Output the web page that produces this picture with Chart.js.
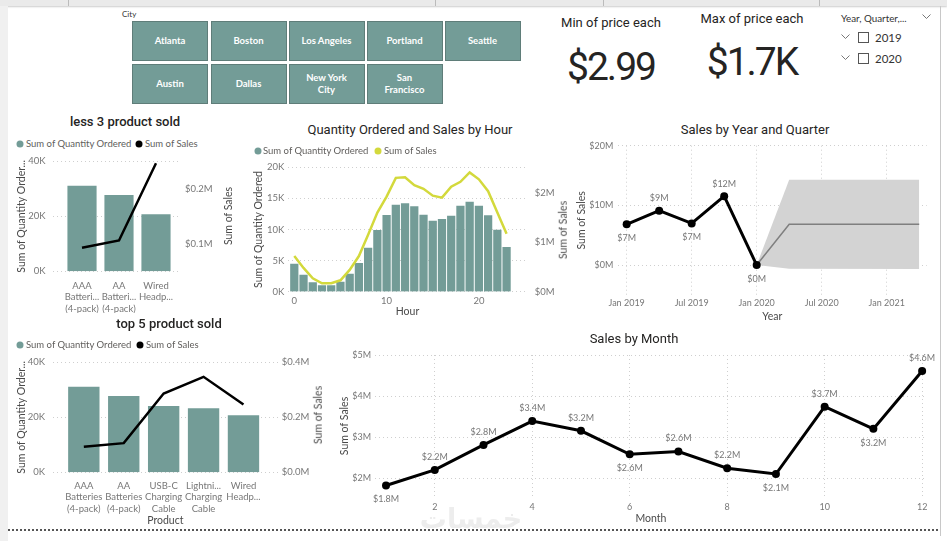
<!DOCTYPE html>
<html><head><meta charset="utf-8">
<script src="https://cdn.jsdelivr.net/npm/chart.js@4.4.1/dist/chart.umd.min.js"></script>
<style>
html,body{margin:0;padding:0;background:#fff;}
#root{position:relative;width:947px;height:541px;overflow:hidden;background:#fff;font-family:Lato,sans-serif;}
.c{position:absolute;transform:translate(-50%,-50%);white-space:nowrap;line-height:1;}
.l{position:absolute;transform:translate(0,-50%);white-space:nowrap;line-height:1;}
.rot{position:absolute;transform:translate(-50%,-50%) rotate(-90deg);white-space:nowrap;line-height:1;font-size:10.5px;color:#4a4a4a;}
canvas{position:absolute;}
.btn{position:absolute;background:#739c97;border:1px solid #5f7d79;box-sizing:border-box;color:#fff;font:700 9.5px Lato,sans-serif;display:flex;align-items:center;justify-content:center;text-align:center;line-height:11.5px;}
.title{font-family:Roboto,sans-serif;font-size:13px;color:#252423;}
.leg{font-size:9.5px;color:#605e5c;}
.dot{position:absolute;width:7px;height:7px;border-radius:50%;transform:translate(-50%,-50%);}
.chk{position:absolute;width:11px;height:11px;border:1px solid #555;box-sizing:border-box;}
</style></head>
<body>
<div id="root">
  <div style="position:absolute;left:0;top:0;width:947px;height:6px;background:#eaeaea;box-shadow:0 1px 2px #ccc"></div>
  <div style="position:absolute;left:68px;top:0;width:1px;height:6px;background:#bbb"></div>
  <div style="position:absolute;left:435px;top:0;width:1px;height:6px;background:#bbb"></div>
  <div style="position:absolute;left:603px;top:0;width:1px;height:6px;background:#bbb"></div>
  <div style="position:absolute;left:819px;top:0;width:1px;height:6px;background:#bbb"></div>
  <div style="position:absolute;left:0;top:6px;width:8px;height:535px;background:#f0f0f0"></div>
  <div style="position:absolute;left:940px;top:6px;width:1px;height:530px;background:#c8c8c8"></div>
  <div style="position:absolute;left:8px;top:529px;width:930px;height:0;border-top:2px dotted #555"></div>

  <!-- City slicer -->
  <div class="l" style="left:122px;top:14px;font-size:8px;color:#333">City</div>
  <div id="cities"></div>

  <!-- Cards -->
  <div class="c" style="left:611px;top:22px;font-family:Roboto;font-size:13px;color:#252423">Min of price each</div>
  <div class="c" style="left:611px;top:67px;font-family:Roboto;font-size:39px;letter-spacing:-2px;color:#252423">$2.99</div>
  <div class="c" style="left:752px;top:18px;font-family:Roboto;font-size:13px;color:#252423">Max of price each</div>
  <div class="c" style="left:752px;top:62px;font-family:Roboto;font-size:39px;letter-spacing:-2px;color:#252423">$1.7K</div>

  <!-- Year slicer -->
  <div class="l" style="left:841px;top:19px;font-size:9.8px;color:#333">Year, Quarter,...</div>
  <svg style="position:absolute;left:922px;top:14px" width="9" height="6"><polyline points="0.5,0.5 4.5,4.5 8.5,0.5" fill="none" stroke="#777" stroke-width="1"/></svg>
  <svg style="position:absolute;left:841px;top:34px" width="9" height="6"><polyline points="0.5,0.5 4.5,4.5 8.5,0.5" fill="none" stroke="#777" stroke-width="1"/></svg>
  <div class="chk" style="left:858px;top:32px"></div>
  <div class="l" style="left:875px;top:37.5px;font-size:11.5px;color:#333">2019</div>
  <svg style="position:absolute;left:841px;top:55px" width="9" height="6"><polyline points="0.5,0.5 4.5,4.5 8.5,0.5" fill="none" stroke="#777" stroke-width="1"/></svg>
  <div class="chk" style="left:858px;top:53px"></div>
  <div class="l" style="left:875px;top:58.5px;font-size:11.5px;color:#333">2020</div>

  <!-- Chart 1 -->
  <div class="c title" style="left:125px;top:121px;font-weight:500">less 3 product sold</div>
  <div class="dot" style="left:20px;top:144px;background:#739c97"></div>
  <div class="l leg" style="left:26px;top:144px">Sum of Quantity Ordered</div>
  <div class="dot" style="left:139px;top:144px;background:#000"></div>
  <div class="l leg" style="left:145px;top:144px">Sum of Sales</div>
  <canvas id="c1" width="240" height="158" style="left:10px;top:155px"></canvas>
  <div class="rot" style="left:228px;top:216px">Sum of Sales</div>

  <!-- Chart 2 -->
  <div class="c title" style="left:410px;top:129px">Quantity Ordered and Sales by Hour</div>
  <div class="dot" style="left:258px;top:151px;background:#739c97"></div>
  <div class="l leg" style="left:263px;top:151px">Sum of Quantity Ordered</div>
  <div class="dot" style="left:378px;top:151px;background:#d3d93c"></div>
  <div class="l leg" style="left:384px;top:151px">Sum of Sales</div>
  <canvas id="c2" width="310" height="160" style="left:245px;top:160px"></canvas>

  <!-- Chart 3 -->
  <div class="c title" style="left:755px;top:129px">Sales by Year and Quarter</div>
  <canvas id="c3" width="390" height="187" style="left:550px;top:138px"></canvas>
  <div class="rot" style="left:563px;top:230px">Sum of Sales</div>

  <!-- Chart 4 -->
  <div class="c title" style="left:169px;top:323px;font-weight:500">top 5 product sold</div>
  <div class="dot" style="left:20px;top:345px;background:#739c97"></div>
  <div class="l leg" style="left:26px;top:345px">Sum of Quantity Ordered</div>
  <div class="dot" style="left:140px;top:345px;background:#000"></div>
  <div class="l leg" style="left:146px;top:345px">Sum of Sales</div>
  <canvas id="c4" width="300" height="172" style="left:10px;top:355px"></canvas>

  <!-- Chart 5 -->
  <div class="c title" style="left:634px;top:338px">Sales by Month</div>
  <canvas id="c5" width="625" height="183" style="left:315px;top:345px"></canvas>
  <div class="rot" style="left:318px;top:415px">Sum of Sales</div>
  <div class="c" style="left:471px;top:518px;font-family:'DejaVu Sans';font-weight:700;font-size:27px;color:#ededed">خمسات</div>
</div>
<script>
// ---------------- DATA ----------------
const cities = [['Atlanta','Boston','Los Angeles','Portland','Seattle'],['Austin','Dallas','New York<br>City','San<br>Francisco']];

const lessLabels = [['AAA','Batteri...','(4-pack)'], ['AA','Batteri...','(4-pack)'], ['Wired','Headp...']];
const lessQty = [31000, 27600, 20600];
const lessSales = [92700, 106100, 246500];

const topLabels = [['AAA','Batteries','(4-pack)'], ['AA','Batteries','(4-pack)'], ['USB-C','Charging','Cable'], ['Lightni...','Charging','Cable'], ['Wired','Headp...']];
const topQty = [31000, 27600, 24000, 23200, 20600];
const topSales = [92700, 106100, 286500, 347100, 246500];

const hours = [0,1,2,3,4,5,6,7,8,9,10,11,12,13,14,15,16,17,18,19,20,21,22,23];
const hourQty = [4450,2680,1450,970,970,1550,2840,4560,7020,9870,12280,13940,14160,13670,12330,11370,11640,12170,13780,14420,13780,12220,9920,7130];
const hourSales = [720000,480000,270000,170000,170000,230000,440000,720000,1150000,1600000,1920000,2300000,2310000,2150000,2080000,1940000,1900000,2120000,2220000,2410000,2270000,2030000,1600000,1170000];

// months counted from Jan 2019
const quarterMonths = [0,3,6,9,12];
const quarterSales = [6.83, 9.12, 6.99, 11.55, 0.01];           // $M
const forecastMonths = [12, 15, 27];
const forecastMid = [0.01, 6.83, 6.83];
const forecastUpper = [0.01, 14.3, 14.3];
const forecastLower = [0.01, -0.6, -0.66];
const yearTickMonths = [0,6,12,18,24];
const yearTickLabels = ['Jan 2019','Jul 2019','Jan 2020','Jul 2020','Jan 2021'];

const months = [1,2,3,4,5,6,7,8,9,10,11,12];
const monthSales = [1.82, 2.2, 2.81, 3.39, 3.153, 2.58, 2.647, 2.24, 2.1, 3.74, 3.2, 4.61]; // $M
const monthTicks = [2,4,6,8,10,12];

// ---------------- STYLE ----------------
const BAR = '#739c97';
const GRIDC = '#cfcfcf';
const TICKC = '#777';
const AXC = '#4a4a4a';
const SEG = 'Lato, sans-serif';
Chart.defaults.font.family = SEG;
Chart.defaults.animation = false;

// city buttons
(function(){
  const xs = [132, 210.5, 288.5, 366.5, 444.5];
  const ys = [21, 64];
  const host = document.getElementById('cities');
  cities.forEach((row, r) => row.forEach((name, i) => {
    const d = document.createElement('div');
    d.className = 'btn';
    d.style.left = xs[i] + 'px'; d.style.top = ys[r] + 'px';
    d.style.width = '76px'; d.style.height = '39.5px';
    d.innerHTML = name;
    host.appendChild(d);
  }));
})();

function noPad(s) { s.paddingTop = 0; s.paddingBottom = 0; s.paddingLeft = 0; s.paddingRight = 0; }
function yAxis(o) {
  return {
    position: o.position || 'left',
    min: o.min, max: o.max,
    grid: o.grid === false ? { display: false, drawTicks: false } : { color: GRIDC, lineWidth: 1, drawTicks: false },
    border: { display: false, dash: [1, 3] },
    afterBuildTicks: s => { s.ticks = o.ticks.map(v => ({ value: v })); },
    ticks: { callback: o.fmt, color: TICKC, font: { size: o.fs || 9.5 }, padding: o.pad },
    title: o.title ? { display: true, text: o.title, color: AXC, font: { size: o.tfs || 10.5 }, padding: { top: o.tpad, bottom: 0 } } : { display: false },
    afterFit: s => { s.width = o.w; noPad(s); }
  };
}
function xAxis(o) {
  return {
    type: 'linear', position: 'bottom',
    min: o.min, max: o.max, offset: false,
    grid: o.grid ? { color: GRIDC, lineWidth: 1, drawTicks: false, offset: false } : { display: false, drawTicks: false, offset: false },
    border: { display: false, dash: [1, 3] },
    afterBuildTicks: s => { s.ticks = o.ticks.map(v => ({ value: v })); },
    ticks: { callback: o.fmt, color: TICKC, font: { size: o.fs || 9.5, lineHeight: o.lh || 1.2 }, padding: o.pad, maxRotation: 0, autoSkip: false },
    title: o.title ? { display: true, text: o.title, color: AXC, font: { size: o.tfs || 10.5 }, padding: { top: 0, bottom: o.tpad } } : { display: false },
    afterFit: s => { s.height = o.h; noPad(s); }
  };
}
const baseOpts = (pad) => ({
  responsive: false, animation: false,
  layout: { padding: pad },
  plugins: { legend: { display: false }, tooltip: { enabled: false } }
});
const dlPlugin = {
  id: 'dl',
  afterDatasetsDraw(chart, args, o) {
    if (!o || o.dataset == null) return;
    const meta = chart.getDatasetMeta(o.dataset);
    const ctx = chart.ctx;
    ctx.save();
    ctx.font = o.font; ctx.fillStyle = o.color; ctx.textAlign = 'center'; ctx.textBaseline = 'middle';
    meta.data.forEach((el, i) => {
      const below = o.pos[i] === 'b';
      ctx.fillText(o.text[i], el.x, el.y + (below ? o.below : -o.above));
    });
    ctx.restore();
  }
};
const kFmt = v => (v / 1000) + 'K';
const mFmt1 = v => '$' + (v / 1e6).toFixed(1) + 'M';
const mFmt0 = v => '$' + Math.round(v / 1e6) + 'M';

// ---------------- Chart 1 ----------------
new Chart(document.getElementById('c1'), {
  type: 'bar',
  data: { datasets: [
    { type: 'line', data: lessSales.map((v, i) => ({ x: i, y: v })), yAxisID: 'y1', borderColor: '#000', borderWidth: 2.5, pointRadius: 0, order: 0 },
    { type: 'bar', data: lessQty.map((v, i) => ({ x: i, y: v })), yAxisID: 'y', backgroundColor: BAR, barThickness: 28.5, order: 1 }
  ]},
  options: Object.assign(baseOpts({ top: 6.3, left: 0, right: 0, bottom: 0 }), {
    scales: {
      x: xAxis({ min: -0.784, max: 2.649, ticks: [0,1,2], fmt: v => lessLabels[v], pad: 8.6, lh: 1.21, h: 41.7 }),
      y: yAxis({ min: 0, max: 40000, ticks: [0,20000,40000], fmt: kFmt, pad: 7.5, w: 43, title: 'Sum of Quantity Order...', tfs: 10.5, tpad: 5.7 }),
      y1: yAxis({ position: 'right', min: 50000, max: 250000, ticks: [100000,200000], fmt: mFmt1, pad: 5, w: 70, grid: false })
    }
  })
});

// ---------------- Chart 2 ----------------
new Chart(document.getElementById('c2'), {
  type: 'bar',
  data: { datasets: [
    { type: 'line', data: hourSales.map((v, i) => ({ x: hours[i], y: v })), yAxisID: 'y1', borderColor: '#d3d93c', borderWidth: 2.5, pointRadius: 0, order: 0 },
    { type: 'bar', data: hourQty.map((v, i) => ({ x: hours[i], y: v })), yAxisID: 'y', backgroundColor: BAR, barThickness: 7.6, order: 1 }
  ]},
  options: Object.assign(baseOpts({ top: 7.3, left: 0, right: 0, bottom: 0 }), {
    scales: {
      x: xAxis({ min: -0.65, max: 25.18, ticks: [0,10,20], fmt: v => String(v), pad: 3.3, h: 28.3, title: 'Hour', tpad: 2 }),
      y: yAxis({ min: 0, max: 20000, ticks: [0,5000,10000,15000,20000], fmt: kFmt, pad: 4, w: 43.3, title: 'Sum of Quantity Ordered', tpad: 7.7 }),
      y1: yAxis({ position: 'right', min: 0, max: 2513000, ticks: [0,1000000,2000000], fmt: mFmt0, pad: 8, w: 28.3, grid: false })
    }
  })
});

// ---------------- Chart 3 ----------------
new Chart(document.getElementById('c3'), {
  type: 'line',
  data: { datasets: [
    { data: forecastMonths.map((m, i) => ({ x: m, y: forecastLower[i] })), borderWidth: 0, pointRadius: 0, fill: false, order: 3 },
    { data: forecastMonths.map((m, i) => ({ x: m, y: forecastUpper[i] })), borderWidth: 0, pointRadius: 0, fill: '-1', backgroundColor: '#d3d3d3', order: 2 },
    { data: forecastMonths.map((m, i) => ({ x: m, y: forecastMid[i] })), borderColor: '#7f7f7f', borderWidth: 1.5, pointRadius: 0, fill: false, order: 1 },
    { data: quarterMonths.map((m, i) => ({ x: m, y: quarterSales[i] })), borderColor: '#000', borderWidth: 3, pointRadius: 4, pointBackgroundColor: '#000', pointBorderWidth: 0, fill: false, order: 0 }
  ]},
  plugins: [dlPlugin],
  options: Object.assign(baseOpts({ top: 7.7, left: 0, right: 13.3, bottom: 0 }), {
    scales: {
      x: xAxis({ min: -0.8, max: 27.69, ticks: yearTickMonths, fmt: v => yearTickLabels[yearTickMonths.indexOf(v)], pad: 2.6, fs: 9, h: 30, grid: true, title: 'Year', tpad: 1.7 }),
      y: yAxis({ min: -5, max: 20, ticks: [0,10,20], fmt: v => '$' + v + 'M', pad: 4.7, fs: 9, w: 68, title: 'Sum of Sales', tpad: 25 })
    }
  }),
});
Chart.getChart('c3').options.plugins.dl = { dataset: 3, text: quarterSales.map(v => '$' + Math.round(v) + 'M'), pos: ['b','a','b','a','b'], above: 12.5, below: 14, font: '9px Lato', color: '#777' };
Chart.getChart('c3').update();

// ---------------- Chart 4 ----------------
new Chart(document.getElementById('c4'), {
  type: 'bar',
  data: { datasets: [
    { type: 'line', data: topSales.map((v, i) => ({ x: i, y: v })), yAxisID: 'y1', borderColor: '#000', borderWidth: 2.5, pointRadius: 0, order: 0 },
    { type: 'bar', data: topQty.map((v, i) => ({ x: i, y: v })), yAxisID: 'y', backgroundColor: BAR, barThickness: 30.7, order: 1 }
  ]},
  options: Object.assign(baseOpts({ top: 7.3, left: 0, right: 0, bottom: 0 }), {
    scales: {
      x: xAxis({ min: -0.78, max: 4.865, ticks: [0,1,2,3,4], fmt: v => topLabels[v], pad: 7.5, lh: 1.23, h: 54.7, title: 'Product', tpad: 0.3 }),
      y: yAxis({ min: 0, max: 40000, ticks: [0,20000,40000], fmt: kFmt, pad: 7.7, w: 42.7, title: 'Sum of Quantity Order...', tpad: 5.7 }),
      y1: yAxis({ position: 'right', min: 0, max: 400000, ticks: [0,200000,400000], fmt: mFmt1, pad: 3.7, w: 32, grid: false })
    }
  })
});

// ---------------- Chart 5 ----------------
new Chart(document.getElementById('c5'), {
  type: 'line',
  data: { datasets: [
    { data: months.map((m, i) => ({ x: m, y: monthSales[i] })), borderColor: '#000', borderWidth: 3, pointRadius: 4, pointBackgroundColor: '#000', pointBorderWidth: 0, fill: false }
  ]},
  plugins: [dlPlugin],
  options: Object.assign(baseOpts({ top: 10, left: 0, right: 13, bottom: 0 }), {
    scales: {
      x: xAxis({ min: 0.774, max: 12.1, ticks: monthTicks, fmt: v => String(v), pad: 4.3, fs: 9, h: 31, grid: true, title: 'Month', tpad: 3 }),
      y: yAxis({ min: 1.54, max: 5, ticks: [2,3,4,5], fmt: v => '$' + v + 'M', pad: 4, fs: 9, w: 60, title: 'Sum of Sales', tpad: 23.6 })
    }
  })
});
Chart.getChart('c5').options.plugins.dl = { dataset: 0, text: monthSales.map(v => '$' + v.toFixed(1) + 'M'), pos: ['b','a','a','a','a','b','a','a','b','a','b','a'], above: 13, below: 14, font: '9px Lato', color: '#777' };
Chart.getChart('c5').update();
</script>
</body></html>
